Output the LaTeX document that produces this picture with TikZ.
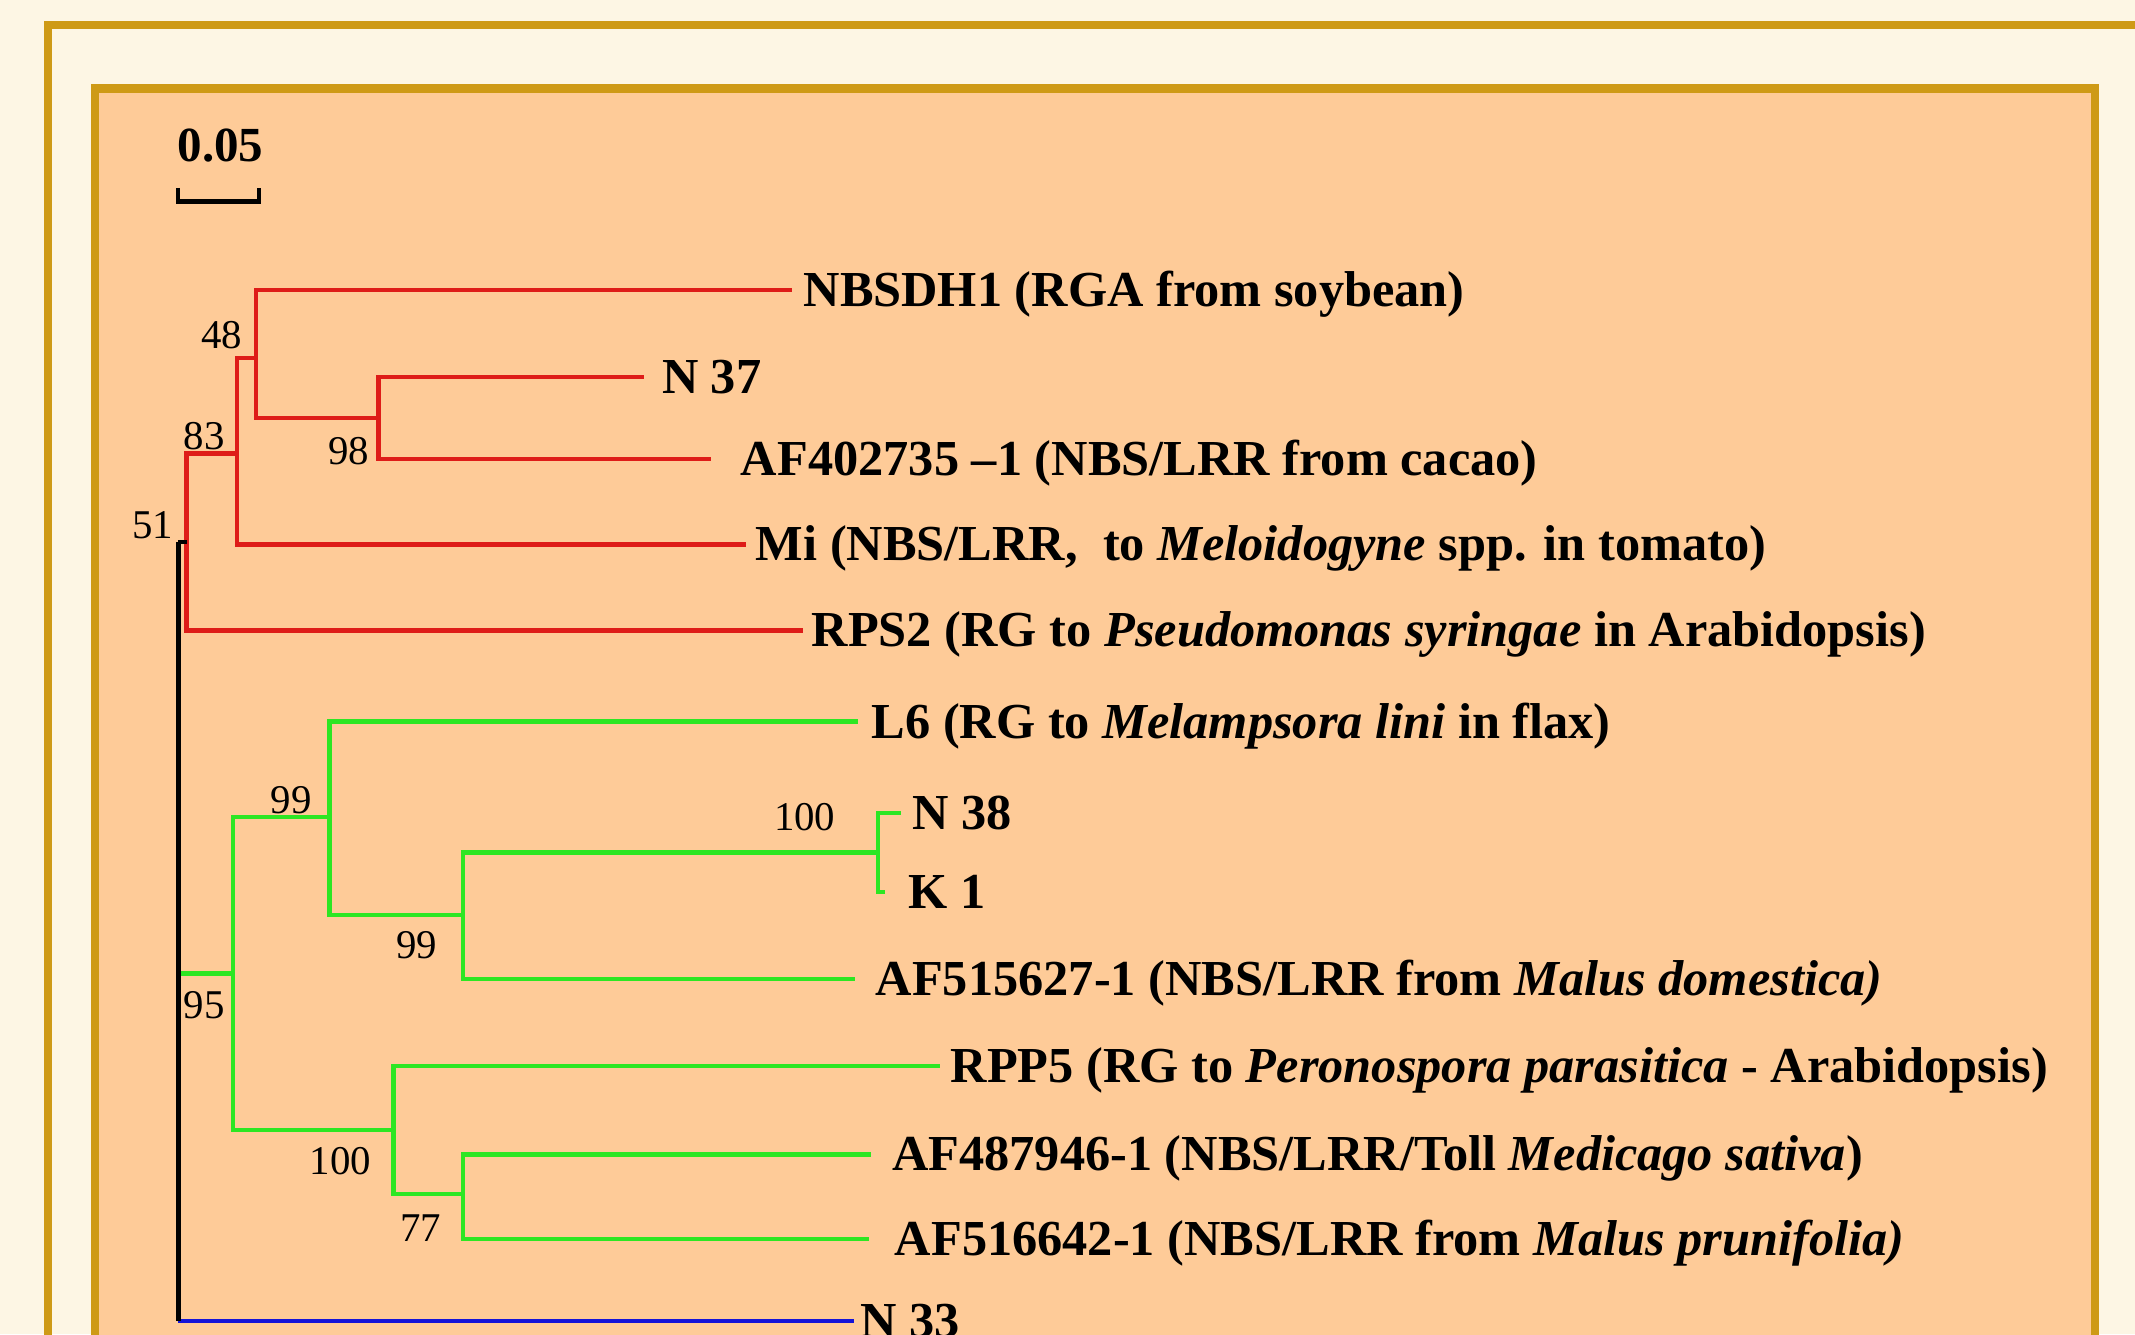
\documentclass[tikz,border=0pt]{standalone}
\usepackage{fontspec}
\setmainfont{Liberation Serif}
\definecolor{cream}{RGB}{253,246,228}
\definecolor{peach}{RGB}{254,203,152}
\definecolor{gold}{RGB}{206,154,22}
\definecolor{treered}{RGB}{222,28,24}
\definecolor{treegreen}{RGB}{45,230,35}
\definecolor{treeblue}{RGB}{20,20,215}
\begin{document}
\begin{tikzpicture}[x=1pt,y=-1pt,
  br/.style={line width=3.2pt},
  redbr/.style={br, draw=treered},
  greenbr/.style={br, draw=treegreen},
  bluebr/.style={br, draw=treeblue},
  blackbr/.style={br, draw=black},
  leaf/.style={anchor=west, inner ysep=0pt, text height=28pt, text depth=4pt,
    font=\fontsize{37}{40}\selectfont\bfseries},
  num/.style={inner sep=0pt, font=\fontsize{30}{32}\selectfont},
  frameline/.style={draw=gold, line width=6pt}]
\useasboundingbox (0,0) rectangle (1568,980);
\clip (0,0) rectangle (1568,980);
\fill[cream] (0,0) rectangle (1568,980);
\draw[frameline] (35.5,1100) -- (35.5,18.5) -- (1700,18.5);
\fill[peach] (69.5,65) rectangle (1538.5,1100);
\draw[frameline] (69.5,1100) -- (69.5,65) -- (1538.5,65) -- (1538.5,1100);

% scale bar
\node[inner sep=0pt, font=\fontsize{36}{38}\selectfont\bfseries] (scl) at (162,107) {0.05};
\draw[black, line width=3pt] (131,138) -- (131,148) -- (190,148) -- (190,138);

% leaves
\node[leaf, inner xsep=8pt]  (nbs)   at (582,213) {NBSDH1 (RGA from soybean)};
\node[leaf, inner xsep=13pt] (n37)   at (473,277) {N 37};
\node[leaf, inner xsep=22pt] (af40)  at (522,337) {AF402735 –1 (NBS/LRR from cacao)};
\node[leaf, inner xsep=7pt]  (mi)    at (548,400) {Mi (NBS/LRR,\ \ to \textit{Meloidogyne} spp. in tomato)};
\node[leaf, inner xsep=6pt]  (rps2)  at (590,463) {RPS2 (RG to \textit{Pseudomonas syringae} in Arabidopsis)};
\node[leaf, inner xsep=10pt] (l6)    at (630,530) {L6 (RG to \textit{Melampsora lini} in flax)};
\node[leaf, inner xsep=8pt]  (n38)   at (662,597) {N 38};
\node[leaf, inner xsep=17pt] (k1)    at (650,655) {K 1};
\node[leaf, inner xsep=15pt] (af515) at (628,719) {AF515627-1 (NBS/LRR from \textit{Malus domestica)}};
\node[leaf, inner xsep=8pt]  (rpp5)  at (690,783) {RPP5 (RG to \textit{Peronospora parasitica} - Arabidopsis)};
\node[leaf, inner xsep=15pt] (af487) at (640,848) {AF487946-1 (NBS/LRR/Toll \textit{Medicago sativa})};
\node[leaf, inner xsep=19pt] (af516) at (638,910) {AF516642-1 (NBS/LRR from \textit{Malus prunifolia)}};
\node[leaf, inner xsep=5pt]  (n33)   at (627,970) {N 33};

% internal nodes
\coordinate (n98) at (278,307);
\coordinate (n48) at (188,263);
\coordinate (n83) at (174,333);
\coordinate (n51) at (137,398);
\coordinate (root) at (131,398);
\coordinate (n95) at (171,715);
\coordinate (n99a) at (242,600);
\coordinate (n99b) at (340,672);
\coordinate (n100a) at (645,626);
\coordinate (n100b) at (289,830);
\coordinate (n77) at (340,877);

% red clade
\draw[redbr] (n98) |- (n37.west) (n98) |- (af40.west);
\draw[redbr] (n48) |- (nbs.west) (n48) |- (n98);
\draw[redbr] (n83) |- (n48) (n83) |- (mi.west);
\draw[redbr] (n51) |- (n83) (n51) |- (rps2.west);

% green clade
\draw[greenbr] (root |- n95) -- (n95);
\draw[greenbr] (n95) |- (n99a) (n95) |- (n100b);
\draw[greenbr] (n99a) |- (l6.west) (n99a) |- (n99b);
\draw[greenbr] (n99b) |- (n100a) (n99b) |- (af515.west);
\draw[greenbr] (n100a) |- (n38.west) (n100a) |- (k1.west);
\draw[greenbr] (n100b) |- (rpp5.west) (n100b) |- (n77);
\draw[greenbr] (n77) |- (af487.west) (n77) |- (af516.west);

% blue and root
\draw[bluebr] (root |- n33.west) -- (n33.west);
\draw[blackbr] (root) -- (n51);
\draw[blackbr] (root) -- (root |- n33.west);

% bootstrap values
\node[num] (b48) at (163,246) {48};
\node[num] (b83) at (150,320) {83};
\node[num] (b98) at (256,331) {98};
\node[num] (b51) at (112,386) {51};
\node[num] (b99a) at (214,588) {99};
\node[num] (b100a) at (591,600) {100};
\node[num] (b99b) at (306,694) {99};
\node[num] (b95) at (150,738) {95};
\node[num] (b100b) at (250,853) {100};
\node[num] (b77) at (309,902) {77};
\end{tikzpicture}
\end{document}
